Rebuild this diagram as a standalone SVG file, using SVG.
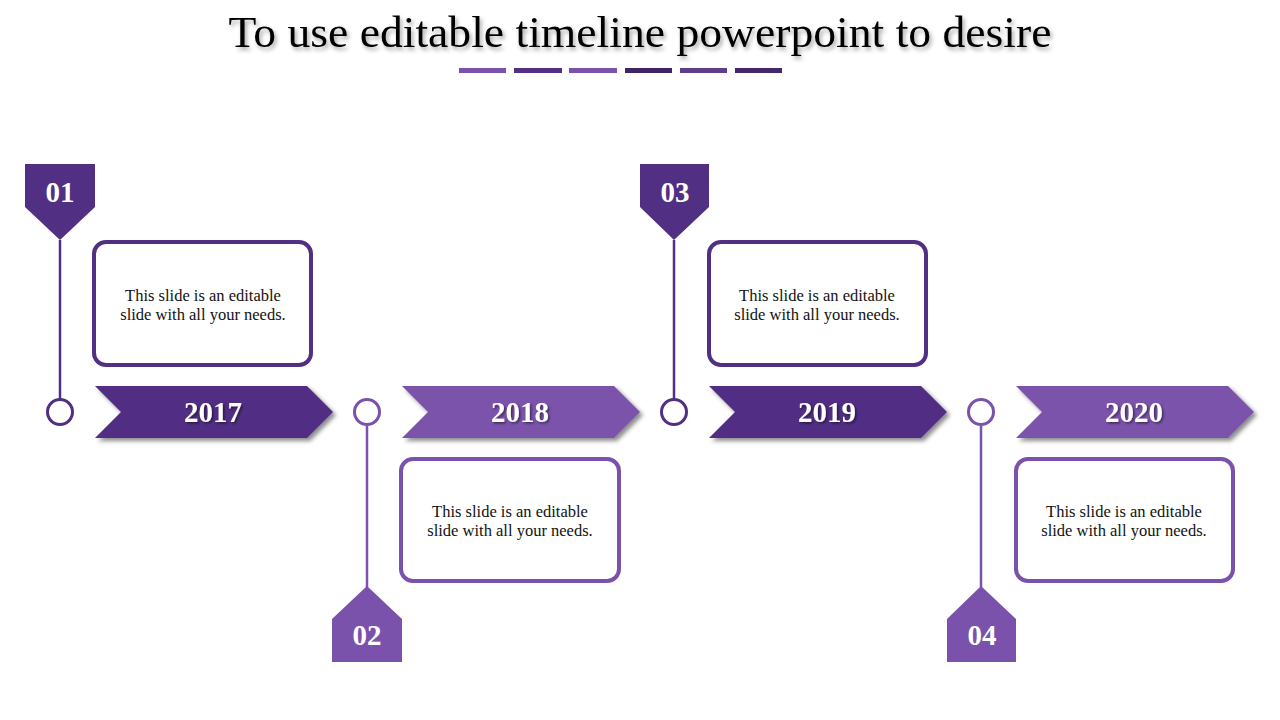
<svg xmlns="http://www.w3.org/2000/svg" width="1280" height="720" viewBox="0 0 1280 720">
<defs>
<filter id="shadow" x="-10%" y="-20%" width="125%" height="150%">
<feDropShadow dx="3" dy="3" stdDeviation="2" flood-color="#000" flood-opacity="0.45"/>
</filter>
<filter id="tshadow" x="-10%" y="-30%" width="130%" height="160%">
<feDropShadow dx="1.5" dy="1.5" stdDeviation="1" flood-color="#000" flood-opacity="0.5"/>
</filter>
<filter id="titleshadow" x="-5%" y="-30%" width="110%" height="170%">
<feDropShadow dx="2" dy="3" stdDeviation="2" flood-color="#000" flood-opacity="0.35"/>
</filter>
</defs>
<style>
.dark{fill:#512F83}
.light{fill:#7B52AB}
.sdark{stroke:#512F83}
.slight{stroke:#7B52AB}
.box{fill:#fff;stroke-width:4}
.ring{fill:#fff;stroke-width:3}
.stem{stroke-width:2.5;fill:none}
.num{font-family:"Liberation Serif",serif;font-weight:bold;font-size:29px;fill:#fff;text-anchor:middle}
.year{font-family:"Liberation Serif",serif;font-weight:bold;font-size:29px;fill:#fff;text-anchor:middle}
.body{font-family:"Liberation Serif",serif;font-size:16.5px;fill:#111;text-anchor:middle}
.title{font-family:"Liberation Serif",serif;font-size:44px;fill:#000;text-anchor:middle}
</style>
<rect width="1280" height="720" fill="#fff"/>

<g id="title">
<text class="title" x="640" y="47" textLength="823" lengthAdjust="spacingAndGlyphs" filter="url(#titleshadow)">To use editable timeline powerpoint to desire</text>
<rect x="459" y="68" width="47" height="5" fill="#7B52AB"/>
<rect x="514" y="68" width="48" height="5" fill="#533086"/>
<rect x="569" y="68" width="48" height="5" fill="#7B52AB"/>
<rect x="625" y="68" width="47" height="5" fill="#3F2466"/>
<rect x="680" y="68" width="47" height="5" fill="#5E3E8A"/>
<rect x="735" y="68" width="47" height="5" fill="#43286B"/>
</g>

<g id="connectors">
<line class="stem sdark" x1="60" y1="240" x2="60" y2="399"/>
<line class="stem slight" x1="367" y1="426" x2="367" y2="587"/>
<line class="stem sdark" x1="674" y1="240" x2="674" y2="399"/>
<line class="stem slight" x1="981" y1="426" x2="981" y2="587"/>
</g>

<g id="step1">
<path class="dark" d="M25,164 H95 V207 L60,240 L25,207 Z"/>
<text class="num" x="60" y="202">01</text>
<circle class="ring sdark" cx="60" cy="412" r="12.5"/>
<rect class="box sdark" x="94" y="242" width="217" height="123" rx="12"/>
<text class="body" x="203" y="301">This slide is an editable</text>
<text class="body" x="203" y="320">slide with all your needs.</text>
<path class="dark" filter="url(#shadow)" d="M95,386 H307 L333,412 L307,438 H95 L121,412 Z"/>
<text class="year" x="213" y="422" filter="url(#tshadow)">2017</text>
</g>

<g id="step2">
<path class="light" d="M332,662 H402 V619 L367,586 L332,619 Z"/>
<text class="num" x="367" y="645">02</text>
<circle class="ring slight" cx="367" cy="412" r="12.5"/>
<rect class="box slight" x="401" y="459" width="218" height="122" rx="12"/>
<text class="body" x="510" y="517">This slide is an editable</text>
<text class="body" x="510" y="536">slide with all your needs.</text>
<path class="light" filter="url(#shadow)" d="M402,386 H614 L640,412 L614,438 H402 L428,412 Z"/>
<text class="year" x="520" y="422" filter="url(#tshadow)">2018</text>
</g>

<g id="step3">
<path class="dark" d="M640,164 H709 V207 L674,240 L640,207 Z"/>
<text class="num" x="675" y="202">03</text>
<circle class="ring sdark" cx="674" cy="412" r="12.5"/>
<rect class="box sdark" x="709" y="242" width="217" height="123" rx="12"/>
<text class="body" x="817" y="301">This slide is an editable</text>
<text class="body" x="817" y="320">slide with all your needs.</text>
<path class="dark" filter="url(#shadow)" d="M709,386 H921 L947,412 L921,438 H709 L735,412 Z"/>
<text class="year" x="827" y="422" filter="url(#tshadow)">2019</text>
</g>

<g id="step4">
<path class="light" d="M947,662 H1016 V619 L981,586 L947,619 Z"/>
<text class="num" x="982" y="645">04</text>
<circle class="ring slight" cx="981" cy="412" r="12.5"/>
<rect class="box slight" x="1016" y="459" width="217" height="122" rx="12"/>
<text class="body" x="1124" y="517">This slide is an editable</text>
<text class="body" x="1124" y="536">slide with all your needs.</text>
<path class="light" filter="url(#shadow)" d="M1016,386 H1228 L1254,412 L1228,438 H1016 L1042,412 Z"/>
<text class="year" x="1134" y="422" filter="url(#tshadow)">2020</text>
</g>
</svg>
